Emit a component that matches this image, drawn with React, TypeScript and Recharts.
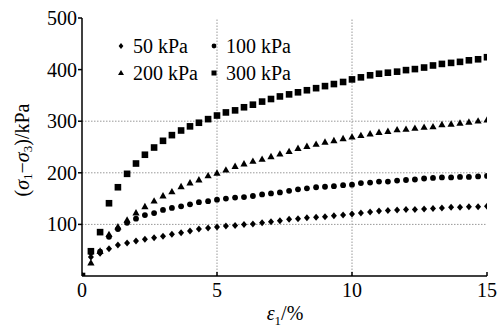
import React from 'react';
import { ScatterChart, Scatter, XAxis, YAxis, ReferenceLine, Legend } from 'recharts';

const strain = [0, 0.33, 0.67, 1, 1.33, 1.67, 2, 2.33, 2.67, 3, 3.33, 3.67, 4, 4.33, 4.67, 5, 5.33, 5.67, 6, 6.33, 6.67, 7, 7.33, 7.67, 8, 8.33, 8.67, 9, 9.33, 9.67, 10, 10.33, 10.67, 11, 11.33, 11.67, 12, 12.33, 12.67, 13, 13.33, 13.67, 14, 14.33, 14.67, 15];

const s50 = [0, 37, 44, 53, 60, 64, 68, 71, 74, 77, 81, 84, 87, 91, 93, 95, 97, 98, 100, 101, 103, 105, 107, 110, 111, 113, 114, 115, 117, 118, 120, 122, 124, 126, 127, 128, 129, 129, 130, 131, 132, 133, 133, 134, 134, 135];
const s100 = [0, 46, 47, 76, 91, 103, 111, 118, 122, 128, 132, 135, 139, 143, 145, 148, 150, 152, 153, 155, 158, 160, 162, 165, 168, 170, 172, 173, 174, 176, 177, 180, 181, 183, 183, 185, 186, 187, 189, 190, 191, 191, 192, 192, 193, 194];
const s200 = [0, 25, 48, 80, 95, 108, 122, 134, 145, 155, 163, 173, 180, 186, 194, 199, 205, 212, 217, 222, 226, 231, 236, 241, 247, 251, 255, 259, 262, 266, 269, 272, 275, 278, 280, 283, 284, 286, 288, 289, 293, 294, 296, 298, 300, 302];
const s300 = [0, 48, 85, 141, 172, 198, 218, 235, 249, 262, 273, 282, 290, 297, 304, 311, 317, 321, 327, 332, 338, 343, 348, 352, 356, 360, 364, 368, 372, 376, 381, 385, 389, 392, 394, 396, 399, 401, 404, 408, 411, 413, 415, 418, 420, 424];

const seriesNames = ['50 kPa', '100 kPa', '200 kPa', '300 kPa'];
const xTicks = [0, 5, 10, 15];
const yTicks = [100, 200, 300, 400, 500];
const gridX = [5, 10];
const gridY = [100, 200, 300];

const FONT = "'Liberation Serif', 'DejaVu Serif', 'Times New Roman', Times, serif";

const toData = (vals: number[]) => strain.map((x, i) => ({ x, y: vals[i] }));

const Diamond = (p: any) => {
  const { cx, cy } = p;
  return <path d={`M${cx},${cy - 3.5}L${cx + 3},${cy}L${cx},${cy + 3.5}L${cx - 3},${cy}Z`} fill="#000" />;
};
const Dot = (p: any) => <circle cx={p.cx} cy={p.cy} r={2.9} fill="#000" />;
const Tri = (p: any) => {
  const { cx, cy } = p;
  return <path d={`M${cx},${cy - 4}L${cx + 3.6},${cy + 2.4}L${cx - 3.6},${cy + 2.4}Z`} fill="#000" />;
};
const Sq = (p: any) => <rect x={p.cx - 3.3} y={p.cy - 3.3} width={6.6} height={6.6} fill="#000" />;

const shapes = [Diamond, Dot, Tri, Sq];

const legendMarker = (i: number) => {
  const s = 3;
  if (i === 0) return <path d={`M6,${6 - s}L${6 + s * 0.8},6L6,${6 + s}L${6 - s * 0.8},6Z`} fill="#000" />;
  if (i === 1) return <circle cx={6} cy={6} r={2.4} fill="#000" />;
  if (i === 2) return <path d="M6,3L9,8L3,8Z" fill="#000" />;
  return <rect x={3.5} y={3.5} width={5} height={5} fill="#000" />;
};

const LegendContent = () => {
  const pos = [
    [115, 36],
    [208, 36],
    [115, 63],
    [208, 63],
  ];
  return (
    <div style={{ position: 'relative', width: 0, height: 0 }}>
      {seriesNames.map((n, i) => (
        <div
          key={n}
          style={{
            position: 'absolute',
            left: pos[i][0],
            top: pos[i][1],
            display: 'flex',
            alignItems: 'center',
            whiteSpace: 'nowrap',
            fontFamily: FONT,
            fontSize: 20,
            lineHeight: '20px',
            color: '#000',
          }}
        >
          <svg width={12} height={12} style={{ marginRight: 6 }}>
            {legendMarker(i)}
          </svg>
          <span>{n}</span>
        </div>
      ))}
    </div>
  );
};

const XTick = (props: any) => {
  const { x, y, payload } = props;
  return (
    <g>
      {payload.value !== 0 && <line x1={x} x2={x} y1={y} y2={y - 4} stroke="#000" strokeWidth={1.5} />}
      <text x={x} y={y + 21} textAnchor="middle" fill="#000" style={{ fontSize: 20, fontFamily: FONT }}>
        {payload.value}
      </text>
    </g>
  );
};

const YTick = (props: any) => {
  const { x, y, payload } = props;
  return (
    <text x={x} y={y} dy={7} textAnchor="end" fill="#000" style={{ fontSize: 20, fontFamily: FONT }}>
      {payload.value}
    </text>
  );
};

const YLabel = () => {
  const cx = 22;
  const cy = 150;
  return (
    <text
      x={cx}
      y={cy}
      transform={`rotate(-90, ${cx}, ${cy})`}
      textAnchor="middle"
      dominantBaseline="central"
      fill="#000"
      style={{ fontSize: 20, fontFamily: FONT }}
    >
      (<tspan fontStyle="italic">σ</tspan>
      <tspan style={{ fontSize: 13 }} dy={5}>1</tspan>
      <tspan dy={-5}>−</tspan>
      <tspan fontStyle="italic">σ</tspan>
      <tspan style={{ fontSize: 13 }} dy={5}>3</tspan>
      <tspan dy={-5}>)/kPa</tspan>
    </text>
  );
};

const XLabel = () => (
  <text x={285} y={320} textAnchor="middle" fill="#000" style={{ fontSize: 20, fontFamily: FONT }}>
    <tspan fontStyle="italic">ε</tspan>
    <tspan style={{ fontSize: 13 }} dy={5}>1</tspan>
    <tspan dy={-5}>/%</tspan>
  </text>
);

export default function App() {
  const all = [s50, s100, s200, s300];
  return (
    <div style={{ position: 'absolute', left: 0, top: 0, width: 500, height: 329, background: '#fff', fontFamily: FONT }}>
      <ScatterChart width={500} height={329} margin={{ top: 18, right: 13, bottom: 0, left: 0 }}>
        <XAxis
          type="number"
          dataKey="x"
          domain={[0, 15]}
          ticks={xTicks}
          height={53}
          tickSize={0}
          tickMargin={0}
          tickLine={false}
          tick={<XTick />}
          axisLine={{ stroke: '#000', strokeWidth: 1.5 }}
          label={<XLabel />}
          allowDataOverflow
        />
        <YAxis
          type="number"
          dataKey="y"
          domain={[0, 500]}
          ticks={yTicks}
          width={82}
          tickSize={4}
          tickMargin={1}
          tickLine={{ stroke: '#000', strokeWidth: 1.5 }}
          axisLine={{ stroke: '#000', strokeWidth: 1.5 }}
          tick={<YTick />}
          label={<YLabel />}
          allowDataOverflow
        />
        {gridX.map((v) => (
          <ReferenceLine key={'gx' + v} x={v} stroke="#999" strokeDasharray="1.5 1.5" />
        ))}
        {gridY.map((v) => (
          <ReferenceLine key={'gy' + v} y={v} stroke="#999" strokeDasharray="1.5 1.5" />
        ))}
        <Legend content={<LegendContent />} wrapperStyle={{ position: 'absolute', left: 0, top: 0, width: 0, height: 0 }} />
        {all.map((s, i) => {
          const S = shapes[i];
          return (
            <Scatter
              key={seriesNames[i]}
              name={seriesNames[i]}
              data={toData(s)}
              fill="#000"
              shape={(p: any) => <S {...p} />}
              isAnimationActive={false}
            />
          );
        })}
      </ScatterChart>
    </div>
  );
}
